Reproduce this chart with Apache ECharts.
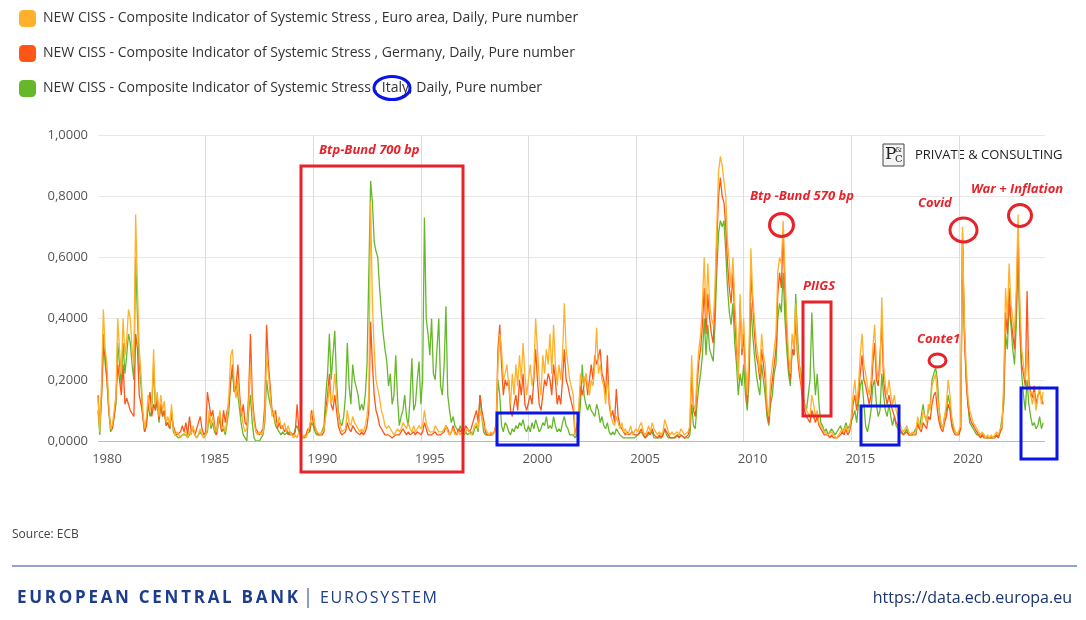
<!DOCTYPE html>
<html>
<head>
<meta charset="utf-8">
<script src="https://cdn.jsdelivr.net/npm/echarts@6.0.0/dist/echarts.min.js"></script>
<style>
  html, body { margin: 0; padding: 0; background: #fff; }
  #chart { width: 1086px; height: 620px; }
</style>
</head>
<body>
<div id="chart"></div>
<script>
// monthly readings, Jan 1980 .. Dec 2023 (one line per year)
var euroArea = [
  0.14,0.03,0.20,0.43,0.30,0.25,0.12,0.04,0.05,0.10,0.15,0.40, // 1980
  0.30,0.22,0.40,0.28,0.33,0.43,0.40,0.30,0.25,0.74,0.50,0.30,
  0.22,0.10,0.04,0.08,0.15,0.10,0.12,0.30,0.12,0.16,0.08,0.15,
  0.10,0.13,0.06,0.08,0.05,0.12,0.04,0.02,0.03,0.02,0.01,0.02,
  0.02,0.03,0.01,0.03,0.02,0.05,0.02,0.01,0.02,0.04,0.02,0.01,
  0.02,0.04,0.10,0.05,0.08,0.04,0.03,0.06,0.10,0.04,0.05,0.03, // 1985
  0.08,0.15,0.28,0.30,0.18,0.14,0.20,0.12,0.10,0.05,0.03,0.04,
  0.12,0.25,0.12,0.06,0.03,0.02,0.03,0.02,0.03,0.08,0.28,0.22,
  0.15,0.08,0.10,0.06,0.05,0.08,0.05,0.04,0.06,0.03,0.05,0.03,
  0.02,0.01,0.02,0.01,0.03,0.02,0.01,0.02,0.01,0.03,0.05,0.08,
  0.10,0.05,0.03,0.03,0.02,0.02,0.04,0.08,0.12,0.18,0.12,0.15, // 1990
  0.22,0.15,0.08,0.05,0.03,0.03,0.04,0.10,0.06,0.05,0.08,0.06,
  0.05,0.04,0.03,0.04,0.03,0.05,0.08,0.15,0.78,0.45,0.30,0.20,
  0.20,0.14,0.10,0.08,0.05,0.04,0.05,0.04,0.03,0.02,0.03,0.04,
  0.03,0.04,0.06,0.05,0.04,0.06,0.04,0.03,0.05,0.03,0.04,0.05,
  0.04,0.05,0.10,0.06,0.04,0.03,0.03,0.03,0.05,0.04,0.03,0.03, // 1995
  0.03,0.04,0.05,0.03,0.02,0.03,0.04,0.02,0.02,0.03,0.02,0.03,
  0.02,0.03,0.04,0.03,0.02,0.03,0.05,0.06,0.04,0.10,0.08,0.05,
  0.04,0.03,0.02,0.03,0.02,0.03,0.05,0.25,0.35,0.30,0.20,0.22,
  0.25,0.18,0.12,0.22,0.15,0.25,0.18,0.28,0.20,0.32,0.22,0.15,
  0.15,0.25,0.18,0.22,0.40,0.30,0.20,0.15,0.28,0.22,0.30,0.25, // 2000
  0.35,0.22,0.38,0.25,0.18,0.25,0.20,0.28,0.45,0.30,0.25,0.20,
  0.20,0.15,0.02,0.03,0.10,0.22,0.20,0.18,0.22,0.18,0.15,0.20,
  0.18,0.25,0.37,0.22,0.25,0.20,0.18,0.12,0.20,0.15,0.08,0.06,
  0.05,0.08,0.06,0.04,0.06,0.03,0.04,0.02,0.03,0.05,0.02,0.03,
  0.04,0.03,0.05,0.06,0.03,0.02,0.03,0.05,0.03,0.06,0.04,0.03, // 2005
  0.02,0.03,0.02,0.03,0.07,0.05,0.03,0.02,0.03,0.02,0.02,0.03,
  0.02,0.04,0.03,0.02,0.02,0.03,0.05,0.28,0.12,0.10,0.22,0.30,
  0.35,0.45,0.60,0.40,0.58,0.45,0.40,0.38,0.50,0.70,0.88,0.93,
  0.90,0.85,0.80,0.65,0.58,0.50,0.60,0.45,0.35,0.20,0.48,0.30,
  0.40,0.25,0.15,0.30,0.63,0.48,0.40,0.32,0.28,0.22,0.35,0.28, // 2010
  0.25,0.12,0.08,0.20,0.25,0.30,0.35,0.55,0.60,0.58,0.72,0.55,
  0.40,0.28,0.22,0.35,0.30,0.45,0.30,0.25,0.20,0.15,0.12,0.10,
  0.10,0.08,0.15,0.12,0.08,0.10,0.06,0.05,0.04,0.03,0.03,0.02,
  0.02,0.03,0.02,0.02,0.01,0.02,0.03,0.04,0.03,0.05,0.03,0.04,
  0.08,0.15,0.20,0.12,0.18,0.28,0.35,0.25,0.22,0.18,0.15,0.20, // 2015
  0.30,0.38,0.25,0.20,0.22,0.47,0.25,0.18,0.15,0.20,0.15,0.12,
  0.15,0.10,0.08,0.06,0.04,0.03,0.04,0.05,0.03,0.02,0.03,0.02,
  0.03,0.08,0.05,0.04,0.10,0.08,0.06,0.12,0.10,0.18,0.20,0.22,
  0.15,0.10,0.06,0.04,0.08,0.12,0.20,0.15,0.08,0.05,0.03,0.02,
  0.02,0.05,0.70,0.40,0.25,0.15,0.10,0.08,0.06,0.05,0.04,0.03, // 2020
  0.02,0.03,0.02,0.01,0.02,0.01,0.02,0.01,0.02,0.03,0.02,0.04,
  0.05,0.20,0.50,0.40,0.58,0.45,0.40,0.35,0.50,0.74,0.45,0.30,
  0.25,0.20,0.30,0.18,0.15,0.12,0.16,0.10,0.14,0.18,0.12,0.16
];
var germany = [
  0.15,0.05,0.15,0.30,0.28,0.20,0.10,0.05,0.04,0.08,0.14,0.25, // 1980
  0.20,0.15,0.25,0.12,0.14,0.12,0.10,0.10,0.08,0.35,0.30,0.15,
  0.12,0.08,0.03,0.05,0.12,0.16,0.08,0.12,0.10,0.15,0.07,0.12,
  0.08,0.10,0.05,0.06,0.04,0.09,0.05,0.03,0.02,0.02,0.03,0.05,
  0.03,0.06,0.02,0.08,0.03,0.04,0.02,0.04,0.06,0.08,0.04,0.02,
  0.03,0.16,0.12,0.08,0.10,0.05,0.02,0.08,0.06,0.03,0.10,0.06, // 1985
  0.10,0.12,0.20,0.25,0.16,0.18,0.25,0.15,0.08,0.12,0.06,0.05,
  0.15,0.35,0.15,0.08,0.04,0.03,0.02,0.03,0.04,0.12,0.38,0.25,
  0.18,0.10,0.08,0.10,0.04,0.06,0.04,0.05,0.03,0.04,0.02,0.03,
  0.03,0.02,0.03,0.12,0.04,0.02,0.02,0.01,0.02,0.04,0.03,0.10,
  0.06,0.04,0.03,0.02,0.02,0.02,0.03,0.10,0.15,0.22,0.12,0.10, // 1990
  0.15,0.10,0.05,0.03,0.02,0.02,0.03,0.06,0.04,0.03,0.05,0.04,
  0.03,0.03,0.02,0.03,0.02,0.03,0.05,0.10,0.39,0.25,0.15,0.10,
  0.08,0.05,0.04,0.03,0.02,0.02,0.02,0.02,0.01,0.01,0.02,0.02,
  0.02,0.02,0.04,0.03,0.02,0.03,0.02,0.02,0.03,0.02,0.03,0.03,
  0.02,0.03,0.06,0.04,0.02,0.02,0.02,0.02,0.03,0.02,0.02,0.02, // 1995
  0.02,0.03,0.05,0.04,0.02,0.03,0.05,0.03,0.02,0.04,0.03,0.04,
  0.03,0.05,0.04,0.03,0.04,0.06,0.08,0.10,0.06,0.15,0.10,0.07,
  0.03,0.02,0.02,0.02,0.02,0.03,0.06,0.30,0.38,0.25,0.15,0.20,
  0.18,0.20,0.10,0.08,0.12,0.15,0.10,0.20,0.15,0.22,0.12,0.10,
  0.10,0.15,0.12,0.20,0.30,0.20,0.12,0.10,0.15,0.20,0.18,0.22, // 2000
  0.20,0.15,0.25,0.20,0.12,0.15,0.12,0.20,0.30,0.20,0.18,0.15,
  0.15,0.10,0.02,0.02,0.08,0.18,0.15,0.15,0.22,0.15,0.20,0.25,
  0.20,0.28,0.25,0.25,0.30,0.22,0.20,0.15,0.28,0.12,0.08,0.10,
  0.06,0.17,0.08,0.05,0.04,0.03,0.02,0.03,0.02,0.02,0.03,0.02,
  0.02,0.02,0.03,0.04,0.02,0.01,0.02,0.03,0.02,0.04,0.02,0.02, // 2005
  0.01,0.02,0.01,0.02,0.04,0.03,0.02,0.01,0.01,0.01,0.01,0.02,
  0.01,0.02,0.02,0.01,0.01,0.02,0.04,0.22,0.10,0.08,0.18,0.26,
  0.30,0.38,0.50,0.35,0.48,0.40,0.35,0.32,0.45,0.65,0.80,0.86,
  0.80,0.78,0.70,0.58,0.50,0.45,0.55,0.40,0.30,0.22,0.45,0.28,
  0.35,0.22,0.12,0.25,0.55,0.45,0.35,0.28,0.25,0.20,0.30,0.25, // 2010
  0.20,0.10,0.06,0.15,0.20,0.25,0.30,0.48,0.55,0.50,0.68,0.50,
  0.35,0.25,0.20,0.30,0.28,0.40,0.28,0.22,0.18,0.12,0.10,0.08,
  0.08,0.06,0.10,0.08,0.06,0.08,0.05,0.04,0.03,0.02,0.02,0.02,
  0.01,0.02,0.01,0.01,0.01,0.01,0.02,0.03,0.02,0.04,0.02,0.03,
  0.06,0.12,0.15,0.10,0.15,0.22,0.28,0.20,0.18,0.15,0.12,0.15, // 2015
  0.25,0.32,0.20,0.18,0.18,0.38,0.20,0.15,0.12,0.15,0.12,0.10,
  0.10,0.06,0.05,0.04,0.03,0.02,0.02,0.03,0.02,0.02,0.02,0.02,
  0.02,0.06,0.04,0.03,0.06,0.05,0.04,0.08,0.07,0.12,0.15,0.16,
  0.10,0.06,0.04,0.03,0.06,0.08,0.12,0.10,0.05,0.03,0.02,0.02,
  0.02,0.04,0.68,0.35,0.20,0.12,0.08,0.06,0.05,0.04,0.03,0.02, // 2020
  0.01,0.02,0.01,0.01,0.01,0.01,0.01,0.01,0.01,0.02,0.01,0.03,
  0.04,0.15,0.42,0.35,0.50,0.40,0.35,0.30,0.45,0.68,0.40,0.25,
  0.22,0.18,0.49,0.20,0.16,0.14,0.18,0.12,0.15,0.16,0.14,0.12
];
var italy = [
  0.10,0.02,0.15,0.35,0.25,0.20,0.10,0.03,0.04,0.08,0.12,0.32, // 1980
  0.25,0.18,0.32,0.22,0.28,0.35,0.32,0.25,0.20,0.60,0.40,0.25,
  0.18,0.08,0.03,0.06,0.12,0.08,0.10,0.25,0.10,0.13,0.06,0.12,
  0.08,0.10,0.05,0.06,0.04,0.10,0.03,0.02,0.02,0.01,0.01,0.02,
  0.02,0.02,0.01,0.02,0.02,0.04,0.02,0.01,0.01,0.03,0.02,0.01,
  0.02,0.03,0.08,0.04,0.06,0.03,0.02,0.05,0.08,0.03,0.04,0.02, // 1985
  0.06,0.10,0.20,0.22,0.16,0.18,0.15,0.10,0.05,0.02,0.01,0.00,
  0.10,0.15,0.06,0.01,0.00,0.00,0.00,0.01,0.02,0.06,0.20,0.15,
  0.12,0.12,0.08,0.05,0.04,0.04,0.02,0.03,0.02,0.02,0.03,0.02,
  0.02,0.02,0.04,0.05,0.03,0.02,0.01,0.01,0.02,0.02,0.03,0.06,
  0.05,0.03,0.02,0.02,0.02,0.02,0.05,0.15,0.22,0.35,0.20,0.28, // 1990
  0.36,0.20,0.10,0.06,0.05,0.08,0.15,0.32,0.18,0.12,0.25,0.20,
  0.20,0.15,0.10,0.12,0.10,0.15,0.25,0.55,0.85,0.78,0.65,0.62,
  0.60,0.50,0.42,0.35,0.30,0.26,0.18,0.22,0.12,0.15,0.28,0.14,
  0.05,0.08,0.10,0.15,0.08,0.05,0.14,0.27,0.10,0.12,0.20,0.26,
  0.12,0.20,0.73,0.40,0.35,0.28,0.40,0.22,0.20,0.30,0.40,0.18, // 1995
  0.15,0.25,0.44,0.15,0.10,0.06,0.08,0.05,0.04,0.03,0.05,0.03,
  0.02,0.03,0.02,0.02,0.03,0.02,0.04,0.05,0.03,0.15,0.08,0.03,
  0.02,0.02,0.02,0.02,0.02,0.02,0.04,0.20,0.15,0.05,0.03,0.06,
  0.05,0.03,0.02,0.04,0.03,0.05,0.04,0.06,0.05,0.07,0.04,0.03,
  0.05,0.03,0.06,0.04,0.07,0.05,0.03,0.04,0.06,0.05,0.08,0.04, // 2000
  0.05,0.04,0.08,0.05,0.03,0.04,0.03,0.06,0.08,0.05,0.04,0.02,
  0.02,0.02,0.01,0.02,0.05,0.12,0.25,0.15,0.12,0.10,0.12,0.10,
  0.10,0.08,0.12,0.10,0.06,0.08,0.05,0.04,0.06,0.03,0.02,0.03,
  0.02,0.04,0.03,0.02,0.02,0.01,0.01,0.01,0.01,0.01,0.01,0.01,
  0.01,0.02,0.02,0.03,0.02,0.01,0.01,0.02,0.02,0.03,0.01,0.01, // 2005
  0.01,0.01,0.01,0.02,0.04,0.02,0.01,0.01,0.01,0.01,0.01,0.02,
  0.01,0.02,0.02,0.01,0.01,0.01,0.02,0.12,0.05,0.04,0.12,0.18,
  0.22,0.28,0.40,0.28,0.38,0.30,0.28,0.26,0.38,0.55,0.68,0.72,
  0.70,0.72,0.62,0.50,0.42,0.38,0.45,0.32,0.25,0.15,0.22,0.18,
  0.25,0.15,0.10,0.20,0.45,0.35,0.28,0.22,0.18,0.15,0.25,0.20, // 2010
  0.15,0.08,0.05,0.12,0.15,0.22,0.25,0.40,0.45,0.42,0.55,0.40,
  0.30,0.22,0.18,0.30,0.28,0.48,0.35,0.25,0.22,0.15,0.12,0.10,
  0.15,0.20,0.42,0.25,0.15,0.22,0.12,0.06,0.05,0.03,0.04,0.02,
  0.03,0.04,0.03,0.02,0.02,0.04,0.05,0.03,0.04,0.06,0.04,0.05,
  0.05,0.08,0.10,0.06,0.12,0.18,0.20,0.12,0.05,0.03,0.06,0.10, // 2015
  0.18,0.20,0.12,0.08,0.10,0.22,0.15,0.10,0.08,0.12,0.08,0.05,
  0.08,0.05,0.04,0.03,0.03,0.02,0.03,0.04,0.02,0.02,0.02,0.03,
  0.03,0.05,0.04,0.04,0.12,0.08,0.07,0.10,0.12,0.20,0.22,0.24,
  0.20,0.10,0.05,0.04,0.08,0.10,0.15,0.12,0.06,0.04,0.03,0.02,
  0.02,0.04,0.66,0.38,0.22,0.12,0.06,0.05,0.04,0.03,0.02,0.02, // 2020
  0.02,0.02,0.02,0.01,0.01,0.01,0.01,0.01,0.01,0.02,0.01,0.03,
  0.03,0.12,0.35,0.30,0.45,0.38,0.30,0.25,0.38,0.60,0.35,0.22,
  0.15,0.10,0.20,0.12,0.08,0.05,0.06,0.04,0.05,0.08,0.04,0.06
];
var yearTicks = [1980, 1985, 1990, 1995, 2000, 2005, 2010, 2015, 2020];
var seriesNames = [
  'NEW CISS - Composite Indicator of Systemic Stress , Euro area, Daily, Pure number',
  'NEW CISS - Composite Indicator of Systemic Stress , Germany, Daily, Pure number',
  'NEW CISS - Composite Indicator of Systemic Stress , Italy, Daily, Pure number'
];
var colors = ['#FFB12B', '#FF5516', '#66B82A'];

// x positions: decimal years, one per month
function pairs(vals) {
  var out = [];
  for (var i = 0; i < vals.length; i++) {
    out.push([1980 + i / 12, vals[i]]);
  }
  return out;
}

// text with letter spacing, stretched to a target width
var measureCtx = document.createElement('canvas').getContext('2d');
function spacedText(str, x, y, font, width, fill) {
  measureCtx.font = font;
  var natural = measureCtx.measureText(str).width;
  var gap = (width - natural) / (str.length - 1);
  var kids = [];
  var cx = x;
  for (var i = 0; i < str.length; i++) {
    var ch = str.charAt(i);
    kids.push({ type: 'text', x: cx, y: y, style: { text: ch, font: font, fill: fill, textVerticalAlign: 'middle' } });
    cx += measureCtx.measureText(ch).width + gap;
  }
  return { type: 'group', children: kids };
}

var red = '#E8222B';
var blue = '#0A14E6';
var noteFont = 'italic bold 13px "Open Sans"';

function note(txt, x, y) {
  return { type: 'text', x: x, y: y, z: 100, style: { text: txt, font: noteFont, fill: red, textVerticalAlign: 'middle' } };
}
function box(x, y, w, h, c) {
  return { type: 'rect', shape: { x: x, y: y, width: w, height: h }, style: { fill: 'none', stroke: c, lineWidth: 3 }, z: 100 };
}
function ring(cx, cy, rx, ry, c) {
  return { type: 'ellipse', shape: { cx: cx, cy: cy, rx: rx, ry: ry }, style: { fill: 'none', stroke: c, lineWidth: 3 }, z: 100 };
}

var myChart = echarts.init(document.getElementById('chart'));
var option = {
  animation: false,
  textStyle: { fontFamily: '"Open Sans"' },
  color: colors,
  legend: {
    orient: 'vertical',
    left: 14,
    top: 5,
    itemWidth: 17,
    itemHeight: 17,
    itemGap: 18,
    icon: 'roundRect',
    data: seriesNames,
    textStyle: { fontSize: 14, color: '#333', padding: [0, 0, 0, 2] }
  },
  grid: { left: 98, right: 41, top: 135, bottom: 179 },
  xAxis: {
    type: 'value',
    min: 1980,
    max: 2024,
    interval: 5,
    axisLine: { show: false },
    axisTick: { show: false },
    splitLine: { show: true, showMinLine: false, showMaxLine: false, lineStyle: { color: '#dcdcdc' } },
    axisLabel: {
      margin: 12,
      fontSize: 13,
      color: '#555',
      formatter: function (v) {
        return yearTicks.indexOf(v) >= 0 ? '{a|' + v + '}' : '';
      },
      rich: { a: { fontSize: 13, color: '#555', padding: [0, 0, 0, 18] } }
    }
  },
  yAxis: {
    type: 'value',
    min: 0,
    max: 1,
    interval: 0.2,
    axisLine: { show: false },
    axisTick: { show: false },
    splitLine: { lineStyle: { color: '#e8e8e8', width: 1 } },
    axisLabel: {
      margin: 10,
      fontSize: 13,
      color: '#555',
      formatter: function (v) { return v.toFixed(4).replace('.', ','); }
    }
  },
  series: [
    { name: seriesNames[2], type: 'line', data: pairs(italy), showSymbol: false, color: colors[2], lineStyle: { width: 1.3 }, z: 2 },
    { name: seriesNames[1], type: 'line', data: pairs(germany), showSymbol: false, color: colors[1], lineStyle: { width: 1.3 }, z: 3 },
    { name: seriesNames[0], type: 'line', data: pairs(euroArea), showSymbol: false, color: colors[0], lineStyle: { width: 1.3 }, z: 4,
      markLine: { silent: true, symbol: 'none', label: { show: false }, lineStyle: { color: '#bbb', type: 'solid', width: 1 }, data: [{ yAxis: 0 }] } }
  ],
  graphic: [
    // annotations
    box(301, 166, 162, 306, red),
    note('Btp-Bund 700 bp', 319, 150),
    box(497, 413, 81, 32, blue),
    note('Btp -Bund 570 bp', 750, 196),
    ring(781.5, 225, 12, 11.5, red),
    note('PIIGS', 803, 286),
    box(803, 302, 28, 114, red),
    box(861, 406, 38, 39, blue),
    note('Conte1', 917, 339),
    ring(937.5, 360.5, 8.5, 6.5, red),
    note('Covid', 918, 203),
    ring(963.5, 230, 13.5, 12, red),
    note('War + Inflation', 971, 189),
    ring(1020, 215.5, 11.5, 11, red),
    box(1021, 388, 36, 71, blue),
    ring(392, 88, 18, 11.5, blue),
    // logo
    { type: 'rect', shape: { x: 883, y: 144, width: 21, height: 22 }, style: { fill: '#f4f4f4', stroke: '#444', lineWidth: 1 } },
    { type: 'text', x: 885, y: 155, style: { text: 'P', font: '17px "DejaVu Serif"', fill: '#222', textVerticalAlign: 'middle' } },
    { type: 'text', x: 895, y: 150, style: { text: '&', font: '8px "DejaVu Serif"', fill: '#222', textVerticalAlign: 'middle' } },
    { type: 'text', x: 895, y: 159, style: { text: 'C', font: '10px "DejaVu Serif"', fill: '#222', textVerticalAlign: 'middle' } },
    { type: 'text', x: 915, y: 155, style: { text: 'PRIVATE & CONSULTING', font: '13px "Open Sans"', fill: '#222', textVerticalAlign: 'middle' } },
    // footer
    { type: 'text', x: 12, y: 535, style: { text: 'Source: ECB', font: '12px "Open Sans"', fill: '#444', textVerticalAlign: 'middle' } },
    { type: 'line', shape: { x1: 12, y1: 566, x2: 1077, y2: 566 }, style: { stroke: '#93a3c4', lineWidth: 2 } },
    spacedText('EUROPEAN CENTRAL BANK', 17, 598, 'bold 17px "Open Sans"', 281, '#1d3c8b'),
    { type: 'line', shape: { x1: 308, y1: 588, x2: 308, y2: 608 }, style: { stroke: '#1d3c8b', lineWidth: 1 } },
    spacedText('EUROSYSTEM', 320, 598, '16px "Open Sans"', 117, '#1d3c8b'),
    { type: 'text', x: 1072, y: 598, style: { text: 'https://data.ecb.europa.eu', font: '16px "Open Sans"', fill: '#1a346e', textAlign: 'right', textVerticalAlign: 'middle' } }
  ]
};
myChart.setOption(option);
</script>
</body>
</html>
